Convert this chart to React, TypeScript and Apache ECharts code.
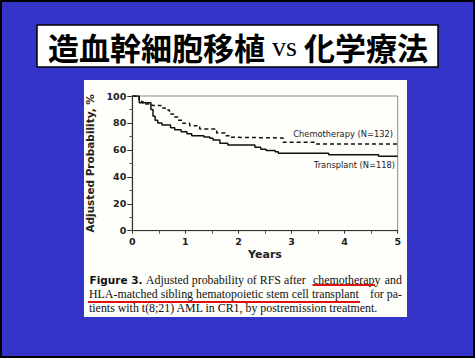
import React, { useEffect, useRef } from "react";
import * as echarts from "echarts";

const titleText = ["造血幹細胞移植", "vs", "化学療法"];
const yTicks = [0, 20, 40, 60, 80, 100];
const xTicks = [0, 1, 2, 3, 4, 5];

const transplantTimes = [0, 0.13, 0.35, 0.39, 0.43, 0.48, 0.56, 0.72, 0.8, 0.92, 1.03, 1.12, 1.35, 1.46, 1.52, 1.65, 1.8, 2.31, 2.42, 2.52, 2.69, 2.75, 3.7, 4.64, 5];
const transplantSurv = [100, 95, 90, 85, 82, 80, 78.5, 76.5, 75, 73.5, 72, 70.5, 69.5, 68.6, 67.3, 65, 63.6, 62, 60.5, 59.5, 58.7, 57.5, 56.3, 55.3, 55.3];

const chemoTimes = [0, 0.13, 0.2, 0.37, 0.54, 0.62, 0.7, 0.78, 0.86, 0.95, 1.08, 1.22, 1.27, 1.59, 1.75, 1.85, 2.0, 2.84, 3.45, 5];
const chemoSurv = [100, 96, 94, 93, 91, 89.6, 86.6, 84.4, 82, 79.7, 78, 77.3, 75.5, 72.5, 70.5, 69.3, 68.8, 65.6, 64.4, 64.4];

const seriesLabels = ["Chemotherapy (N=132)", "Transplant (N=118)"];

const captionLines = [
  ["Figure 3.", "Adjusted probability of RFS after", "chemotherapy", "and"],
  ["HLA-matched sibling hematopoietic stem cell transplant", "for pa-"],
  ["tients with t(8;21) AML in CR1, by postremission treatment."],
];

export default function App() {
  const ref = useRef<HTMLDivElement>(null);
  useEffect(() => {
    if (!ref.current) return;
    const chart = echarts.init(ref.current, null, { renderer: "svg" });
    const serif = "Liberation Serif";
    const capSize = 11.9;
    const option: any = {
      animation: false,
      backgroundColor: "#3434c8",
      grid: {
        left: 132.3,
        top: 96,
        right: 77.3,
        bottom: 127.3,
        show: true,
        borderColor: "#8a8a8a",
        borderWidth: 1,
        backgroundColor: "transparent",
      },
      xAxis: {
        type: "value",
        min: xTicks[0],
        max: xTicks[xTicks.length - 1],
        interval: 1,
        name: "Years",
        nameLocation: "middle",
        nameGap: 18,
        nameTextStyle: { fontFamily: "DejaVu Sans", fontWeight: "bold", fontSize: 11, color: "#222" },
        axisLine: { show: true, lineStyle: { color: "#333", width: 1.2 } },
        axisTick: { show: true, length: 3, lineStyle: { color: "#333" } },
        minorTick: { show: true, splitNumber: 2, length: 3, lineStyle: { color: "#555" } },
        axisLabel: { margin: 6, fontFamily: "DejaVu Sans", fontWeight: "bold", fontSize: 9.5, color: "#222" },
        splitLine: { show: false },
      },
      yAxis: {
        type: "value",
        min: yTicks[0],
        max: yTicks[yTicks.length - 1],
        interval: 20,
        name: "Adjusted Probability, %",
        nameLocation: "middle",
        nameRotate: 90,
        nameGap: 31,
        nameTextStyle: { fontFamily: "DejaVu Sans", fontWeight: "bold", fontSize: 10.5, color: "#222" },
        axisLine: { show: true, lineStyle: { color: "#333", width: 1.2 } },
        axisTick: { show: true, length: 5, lineStyle: { color: "#333" } },
        minorTick: { show: true, splitNumber: 2, length: 3, lineStyle: { color: "#555" } },
        axisLabel: { margin: 6, fontFamily: "DejaVu Sans", fontWeight: "bold", fontSize: 9.5, color: "#222" },
        splitLine: { show: false },
      },
      series: [
        {
          name: seriesLabels[1],
          type: "line",
          step: "end",
          symbol: "none",
          data: transplantTimes.map((t, i) => [t, transplantSurv[i]]),
          lineStyle: { color: "#111", width: 1.5 },
          z: 3,
        },
        {
          name: seriesLabels[0],
          type: "line",
          step: "end",
          symbol: "none",
          data: chemoTimes.map((t, i) => [t, chemoSurv[i]]),
          lineStyle: { color: "#111", width: 1.5, type: [4, 3] },
          z: 3,
        },
      ],
      graphic: [
        {
          type: "rect",
          shape: { x: 1, y: 1, width: 473, height: 356 },
          style: { fill: "transparent", stroke: "#000", lineWidth: 2 },
          z: -5,
        },
        {
          type: "rect",
          shape: { x: 37, y: 25, width: 401, height: 42 },
          style: { fill: "#fff", stroke: "#000", lineWidth: 1.5 },
          z: -5,
        },
        {
          type: "text",
          x: 238,
          y: 46,
          style: {
            text: `{a|${titleText[0]}}{b| ${titleText[1]} }{a|${titleText[2]}}`,
            align: "center",
            verticalAlign: "middle",
            rich: {
              a: { fontFamily: "Noto Sans CJK JP", fontWeight: "bold", fontSize: 31, fill: "#000" },
              b: { fontFamily: serif, fontSize: 28, fill: "#000" },
            },
          },
          z: -4,
        },
        {
          type: "rect",
          shape: { x: 84, y: 80, width: 323, height: 237 },
          style: { fill: "#fefefa" },
          z: -10,
        },
        {
          type: "text",
          x: 393,
          y: 134,
          style: { text: seriesLabels[0], align: "right", verticalAlign: "middle", fontFamily: "DejaVu Sans", fontSize: 8.3, fill: "#222" },
        },
        {
          type: "text",
          x: 395,
          y: 165,
          style: { text: seriesLabels[1], align: "right", verticalAlign: "middle", fontFamily: "DejaVu Sans", fontSize: 8.3, fill: "#222" },
        },
        {
          type: "text",
          x: 89.5,
          y: 280,
          style: {
            text: `{f|${captionLines[0][0]}} {s|${captionLines[0][1]}}`,
            align: "left",
            verticalAlign: "middle",
            rich: {
              f: { fontFamily: "DejaVu Sans", fontWeight: "bold", fontSize: 10.5, fill: "#111" },
              s: { fontFamily: serif, fontSize: capSize, fill: "#111" },
            },
          },
        },
        {
          type: "text",
          x: 313,
          y: 280,
          style: { text: captionLines[0][2], align: "left", verticalAlign: "middle", fontFamily: serif, fontSize: capSize, fill: "#111" },
        },
        {
          type: "text",
          x: 402,
          y: 280,
          style: { text: captionLines[0][3], align: "right", verticalAlign: "middle", fontFamily: serif, fontSize: capSize, fill: "#111" },
        },
        {
          type: "text",
          x: 89,
          y: 294.3,
          style: { text: captionLines[1][0], align: "left", verticalAlign: "middle", fontFamily: serif, fontSize: capSize, fill: "#111" },
        },
        {
          type: "text",
          x: 402,
          y: 294.3,
          style: { text: captionLines[1][1], align: "right", verticalAlign: "middle", fontFamily: serif, fontSize: capSize, fill: "#111" },
        },
        {
          type: "text",
          x: 89,
          y: 308.3,
          style: { text: captionLines[2][0], align: "left", verticalAlign: "middle", fontFamily: serif, fontSize: capSize, fill: "#111" },
        },
        {
          type: "rect",
          shape: { x: 312.5, y: 284, width: 62.5, height: 2 },
          style: { fill: "#e01010" },
        },
        {
          type: "rect",
          shape: { x: 88, y: 301, width: 272, height: 2 },
          style: { fill: "#e01010" },
        },
      ],
    };
    chart.setOption(option);
    return () => chart.dispose();
  }, []);
  return (
    <div
      ref={ref}
      style={{ position: "absolute", left: 0, top: 0, width: 475, height: 358 }}
    />
  );
}
